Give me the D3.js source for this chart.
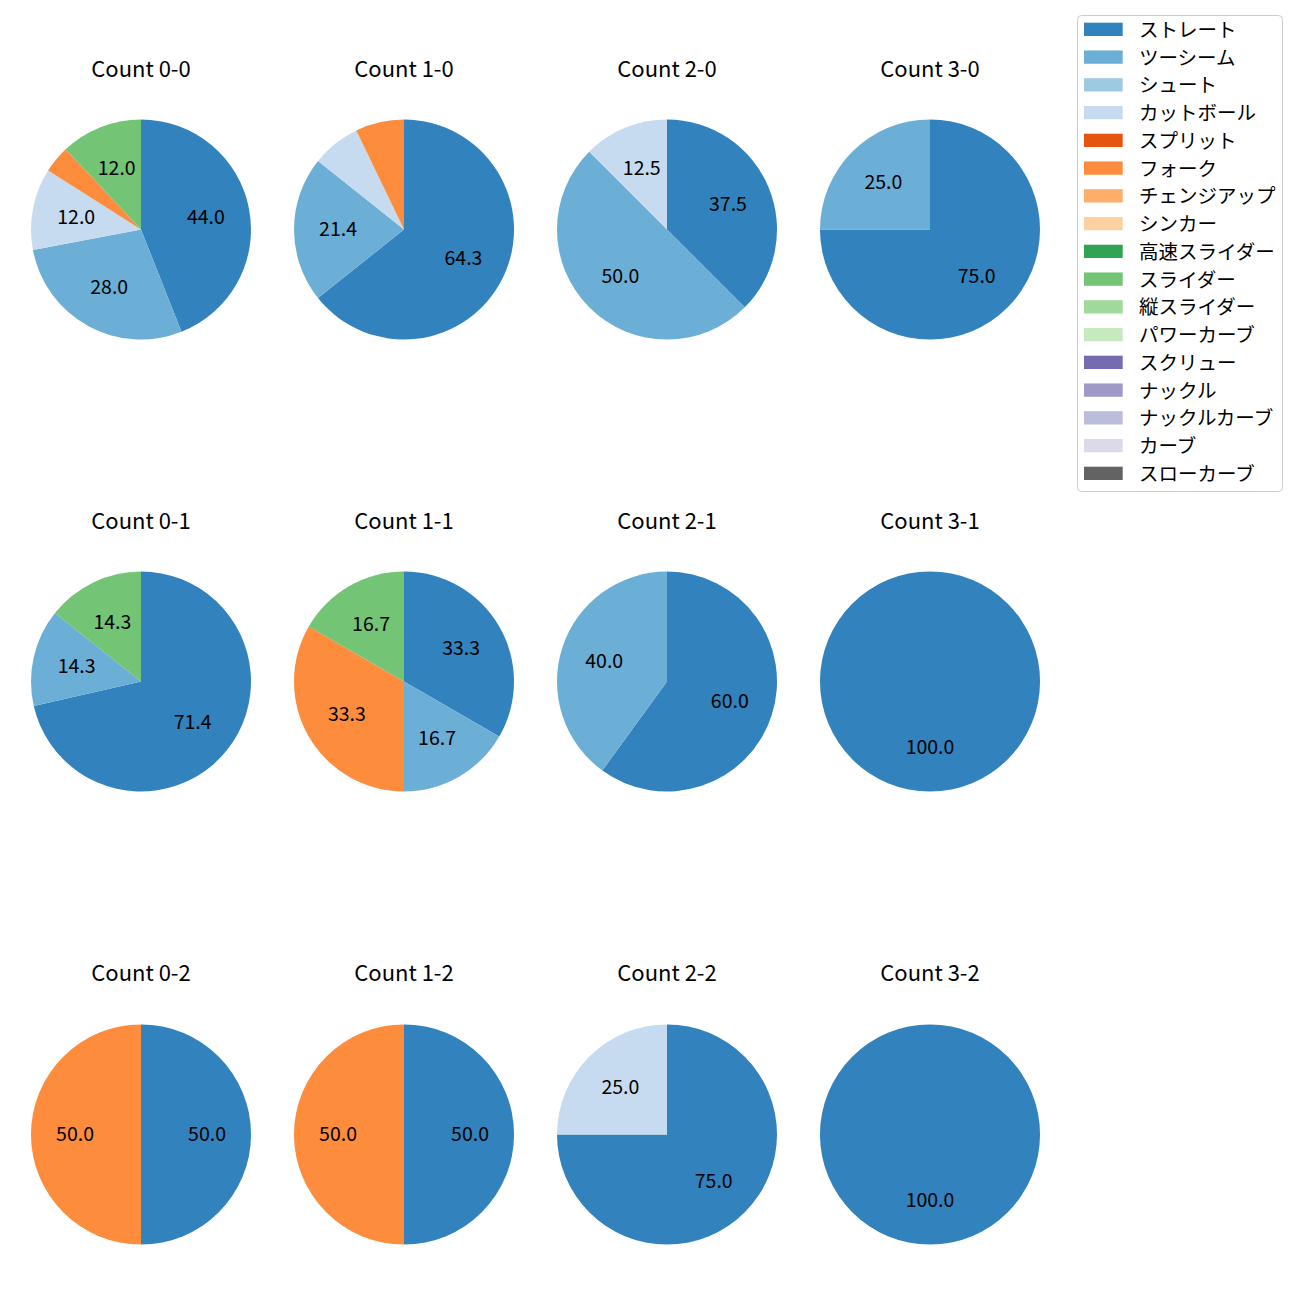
<!DOCTYPE html>
<html>
<head>
<meta charset="utf-8">
<script src="https://cdn.jsdelivr.net/npm/d3@7"></script>
<style>
  html, body { margin: 0; padding: 0; background: #fff; }
  svg { display: block; }
  text { font-family: "Noto Sans CJK JP", "Noto Sans", sans-serif; fill: #000; }
</style>
</head>
<body>
<svg id="chart" width="1300" height="1300"></svg>
<script>
// ---- data ----
const pitchTypes = ["ストレート", "ツーシーム", "シュート", "カットボール", "スプリット", "フォーク",
  "チェンジアップ", "シンカー", "高速スライダー", "スライダー", "縦スライダー", "パワーカーブ",
  "スクリュー", "ナックル", "ナックルカーブ", "カーブ", "スローカーブ"];
const pitchColors = ["#3182bd", "#6baed6", "#9ecae1", "#c6dbef", "#e6550d", "#fd8d3c",
  "#fdae6b", "#fdd0a2", "#31a354", "#74c476", "#a1d99b", "#c7e9c0",
  "#756bb1", "#9e9ac8", "#bcbddc", "#dadaeb", "#636363"];
const countLabels = ["0-0", "1-0", "2-0", "3-0", "0-1", "1-1", "2-1", "3-1", "0-2", "1-2", "2-2", "3-2"];
// pitch counts per ball-strike count (same order as countLabels)
const straight = [11, 9, 3, 3, 5, 2, 3, 1, 1, 1, 3, 1];
const twoSeam  = [7, 3, 4, 1, 1, 1, 2, 0, 0, 0, 0, 0];
const cutter   = [3, 1, 1, 0, 0, 0, 0, 0, 0, 0, 1, 0];
const fork     = [1, 1, 0, 0, 0, 2, 0, 0, 1, 1, 0, 0];
const slider   = [3, 0, 0, 0, 1, 1, 0, 0, 0, 0, 0, 0];
const seriesByPitch = {
  "ストレート": straight, "ツーシーム": twoSeam, "カットボール": cutter,
  "フォーク": fork, "スライダー": slider
};

// ---- layout ----
const colX = [141, 404, 667, 930];
const rowY = [229.5, 681.5, 1134.5];
const titleY = [67, 519, 971];
const R = 110;

const svg = d3.select("#chart");
const color = d3.scaleOrdinal().domain(pitchTypes).range(pitchColors);
const pie = d3.pie().sort(null).value(d => d.value).startAngle(0).endAngle(2 * Math.PI);
const arc = d3.arc().innerRadius(0).outerRadius(R);
const labelArc = d3.arc().innerRadius(R * 0.6).outerRadius(R * 0.6);

countLabels.forEach((c, i) => {
  const col = i % 4, row = Math.floor(i / 4);
  const data = pitchTypes.map(p => ({ name: p, value: seriesByPitch[p] ? seriesByPitch[p][i] : 0 }))
    .filter(d => d.value > 0);
  const total = d3.sum(data, d => d.value);
  const g = svg.append("g").attr("transform", `translate(${colX[col]},${rowY[row]})`);
  const arcs = pie(data);
  g.selectAll("path").data(arcs).join("path")
    .attr("d", arc)
    .attr("fill", d => color(d.data.name));
  g.selectAll("text.lbl").data(arcs.filter(d => d.data.value / total * 100 >= 10)).join("text")
    .attr("class", "lbl")
    .attr("transform", d => { const p = labelArc.centroid(d); return `translate(${p[0]},${p[1] - 2})`; })
    .attr("text-anchor", "middle")
    .attr("dominant-baseline", "central")
    .style("font-size", "19.5px")
    .text(d => (d.data.value / total * 100).toFixed(1));
  svg.append("text")
    .attr("x", colX[col]).attr("y", titleY[row])
    .attr("text-anchor", "middle")
    .attr("dominant-baseline", "central")
    .style("font-size", "22px")
    .text("Count " + c);
});

// ---- legend ----
const lg = svg.append("g");
lg.append("rect")
  .attr("x", 1077.5).attr("y", 15.5).attr("width", 205).attr("height", 476)
  .attr("rx", 4).attr("fill", "#fff").attr("stroke", "#cccccc").attr("stroke-width", 1);
const ly = d3.scalePoint().domain(pitchTypes).range([29.3, 473.3]);
const items = lg.selectAll("g.item").data(pitchTypes).join("g").attr("class", "item")
  .attr("transform", d => `translate(0,${ly(d)})`);
items.append("rect").attr("x", 1084).attr("y", -6.6).attr("width", 38.7).attr("height", 13.3)
  .attr("fill", d => color(d));
items.append("text").attr("x", 1139).attr("y", -1)
  .attr("dominant-baseline", "central")
  .style("font-size", "19.5px")
  .text(d => d);
</script>
</body>
</html>
